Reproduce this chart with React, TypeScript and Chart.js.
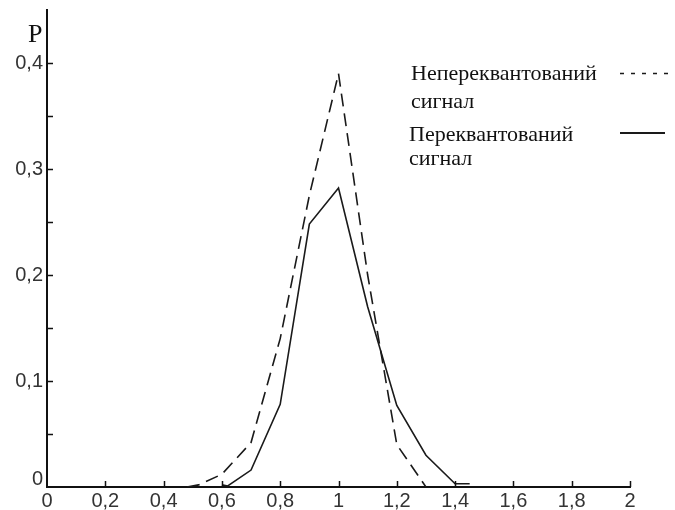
import React, { useEffect, useRef } from "react";
import { Chart, registerables } from "chart.js";

Chart.register(...registerables);

// Unquantized signal (dashed)
const unquantX = [0.48, 0.52, 0.6, 0.7, 0.8, 0.9, 1.0, 1.1, 1.2, 1.3];
const unquantP = [0, 0.002, 0.012, 0.042, 0.14, 0.275, 0.39, 0.2, 0.04, 0];

// Requantized signal (solid)
const requantX = [0.6, 0.62, 0.7, 0.8, 0.9, 1.0, 1.1, 1.2, 1.3, 1.4, 1.45];
const requantP = [0.002, 0.001, 0.016, 0.078, 0.248, 0.282, 0.17, 0.077, 0.03, 0.003, 0.003];

const xTickValues = [0, 0.2, 0.4, 0.6, 0.8, 1, 1.2, 1.4, 1.6, 1.8, 2];
const xTickLabels = ["0", "0,2", "0,4", "0,6", "0,8", "1", "1,2", "1,4", "1,6", "1,8", "2"];
const yTickValues = [0, 0.05, 0.1, 0.15, 0.2, 0.25, 0.3, 0.35, 0.4];
const yTickLabels = ["0", "", "0,1", "", "0,2", "", "0,3", "", "0,4"];

const axisTitleY = "P";
const legendLabels = [
  ["Непереквантований", "сигнал"],
  ["Переквантований", "сигнал"],
];

const LINE_COLOR = "#1a1a1a";

const decorPlugin = {
  id: "decor",
  afterDraw(chart: any) {
    const { ctx, chartArea, scales } = chart;
    const xs = scales.x;
    const ys = scales.y;
    ctx.save();
    // inward tick marks
    ctx.strokeStyle = "#111";
    ctx.lineWidth = 1.5;
    ctx.beginPath();
    yTickValues.forEach((v) => {
      if (v === 0) return;
      const py = Math.round(ys.getPixelForValue(v)) + 0.5;
      ctx.moveTo(chartArea.left, py);
      ctx.lineTo(chartArea.left + 6, py);
    });
    xTickValues.forEach((v) => {
      if (v === 0) return;
      const px = Math.round(xs.getPixelForValue(v)) + 0.5;
      ctx.moveTo(px, chartArea.bottom);
      ctx.lineTo(px, chartArea.bottom - 6);
    });
    ctx.stroke();

    // axis title P
    ctx.fillStyle = "#111";
    ctx.font = '26px "Liberation Serif"';
    ctx.textBaseline = "alphabetic";
    ctx.textAlign = "left";
    ctx.fillText(axisTitleY, 28, 42);

    // legend
    ctx.font = '22px "Liberation Serif"';
    ctx.fillText(legendLabels[0][0], 411, 80);
    ctx.fillText(legendLabels[0][1], 411, 108);
    ctx.fillText(legendLabels[1][0], 409, 141);
    ctx.fillText(legendLabels[1][1], 409, 165);

    ctx.strokeStyle = LINE_COLOR;
    ctx.lineWidth = 1.5;
    ctx.setLineDash([4, 7]);
    ctx.beginPath();
    ctx.moveTo(620, 73.5);
    ctx.lineTo(675, 73.5);
    ctx.stroke();
    ctx.setLineDash([]);
    ctx.lineWidth = 2;
    ctx.beginPath();
    ctx.moveTo(620, 133);
    ctx.lineTo(665, 133);
    ctx.stroke();
    ctx.restore();
  },
};

export default function App() {
  const canvasRef = useRef<HTMLCanvasElement | null>(null);

  useEffect(() => {
    document.body.style.margin = "0";
    const canvas = canvasRef.current;
    if (!canvas) return;
    const chart = new Chart(canvas, {
      type: "line",
      data: {
        datasets: [
          {
            label: legendLabels[0].join(" "),
            data: unquantX.map((x, i) => ({ x, y: unquantP[i] })),
            borderColor: LINE_COLOR,
            borderWidth: 1.6,
            borderDash: [13, 7],
            pointRadius: 0,
            tension: 0,
            fill: false,
          },
          {
            label: legendLabels[1].join(" "),
            data: requantX.map((x, i) => ({ x, y: requantP[i] })),
            borderColor: LINE_COLOR,
            borderWidth: 1.6,
            pointRadius: 0,
            tension: 0,
            fill: false,
          },
        ],
      },
      options: {
        responsive: false,
        animation: false,
        events: [],
        layout: { padding: { top: 10, right: 45, bottom: 0, left: 0 } },
        plugins: {
          legend: { display: false },
          tooltip: { enabled: false },
        },
        scales: {
          x: {
            type: "linear",
            min: 0,
            max: 2,
            afterFit: (s: any) => {
              s.height = 23;
              s.paddingLeft = 0;
              s.paddingRight = 0;
            },
            afterBuildTicks: (s: any) => {
              s.ticks = xTickValues.map((v) => ({ value: v }));
            },
            grid: { display: false, drawTicks: false, tickLength: 0 },
            border: { display: true, color: "#111", width: 2 },
            ticks: {
              autoSkip: false,
              maxRotation: 0,
              minRotation: 0,
              padding: 2,
              color: "#333",
              font: { family: '"Liberation Sans"', size: 20 },
              callback: (v: any) => {
                const i = xTickValues.findIndex((t) => Math.abs(t - v) < 1e-6);
                return i >= 0 ? xTickLabels[i] : "";
              },
            },
          },
          y: {
            type: "linear",
            min: 0,
            max: 0.45,
            afterFit: (s: any) => {
              s.width = 47;
              s.paddingTop = 0;
              s.paddingBottom = 0;
            },
            afterBuildTicks: (s: any) => {
              s.ticks = yTickValues.map((v) => ({ value: v }));
            },
            grid: { display: false, drawTicks: false, tickLength: 0 },
            border: { display: true, color: "#111", width: 2 },
            ticks: {
              autoSkip: false,
              padding: 4,
              color: "#333",
              font: (c: any) =>
                c.tick && c.tick.value === 0
                  ? { family: '"Liberation Sans"', size: 20, lineHeight: "16px" }
                  : { family: '"Liberation Sans"', size: 20 },
              callback: (v: any) => {
                const i = yTickValues.findIndex((t) => Math.abs(t - v) < 1e-6);
                if (i < 0) return "";
                const lab = yTickLabels[i];
                return v === 0 ? [lab, ""] : lab;
              },
            },
          },
        },
      },
      plugins: [decorPlugin],
    });
    return () => chart.destroy();
  }, []);

  return (
    <div style={{ position: "fixed", left: 0, top: 0, width: 675, height: 510, background: "#fff" }}>
      <canvas ref={canvasRef} width={675} height={510} />
    </div>
  );
}
